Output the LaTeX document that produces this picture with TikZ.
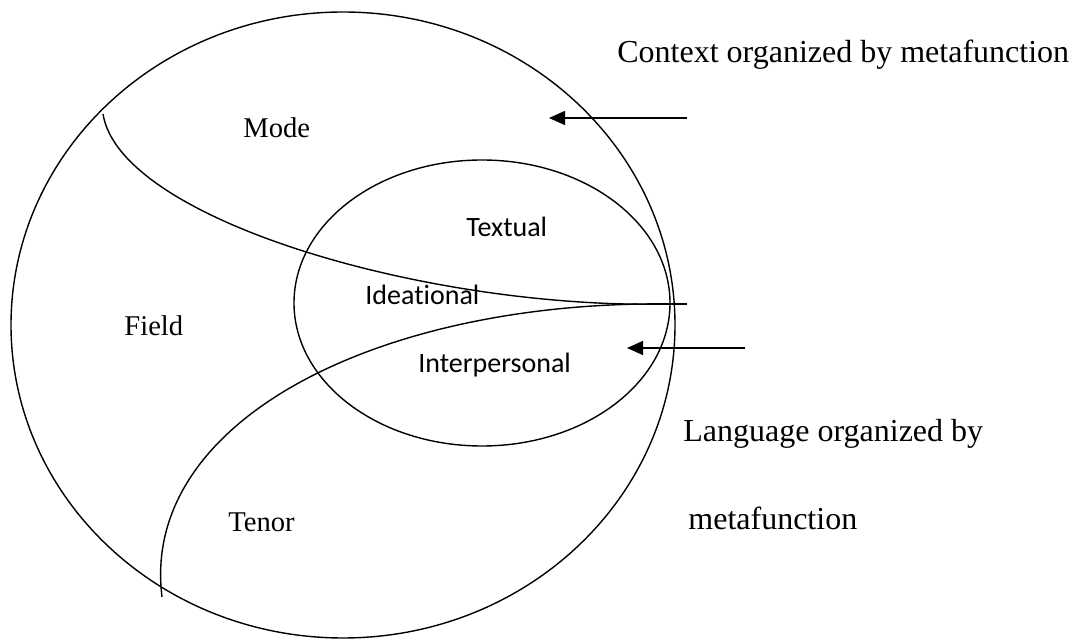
\documentclass[tikz,border=0pt]{standalone}
\usepackage{fontspec}
\setmainfont{Liberation Serif}
\newfontfamily\calibfont[Ligatures=NoCommon]{Carlito}
\usetikzlibrary{shapes.geometric,arrows.meta}
\begin{document}
\begin{tikzpicture}[x=0.5pt,y=-0.5pt,
  curveline/.style={line width=0.7pt},
  ring/.style={draw, ellipse, line width=0.7pt, inner sep=0pt, outer sep=0pt},
  sidelabel/.style={font=\fontsize{16}{19}\selectfont, anchor=base west, inner sep=0pt},
  region/.style={font=\fontsize{14.3}{17}\selectfont, anchor=base west, inner sep=0pt},
  func/.style={font=\calibfont\fontsize{14}{17}\selectfont, anchor=base west, inner sep=0pt},
  pointer/.style={line width=0.7pt, -{Triangle[length=8pt,width=7pt]}}]
\useasboundingbox (0,0) rectangle (1073,640);

% outer context circle and inner language ellipse
\node[ring, minimum width=332pt, minimum height=313pt] (context) at (343,325) {};
\node[ring, minimum width=188pt, minimum height=143pt] (language) at (482,303) {};

% dividing curves
\coordinate (tip) at (672,304);
\coordinate (tipend) at (687,304);
\coordinate (modestart) at (103,114);
\coordinate (tenorstart) at (162,597);
\draw[curveline] (modestart) .. controls (120,220) and (430,310) .. (tip);
\draw[curveline] (tenorstart) .. controls (140,420) and (380,300) .. (tip);
\draw[curveline] (tip) -- (tipend);

% region labels
\node[region] (mode) at (243,138) {Mode};
\node[region] (field) at (124,336) {Field};
\node[region] (tenor) at (228,532) {Tenor};

% metafunction labels
\node[func] (textual) at (466,237) {Textual};
\node[func] (ideational) at (365,305) {Ideational};
\node[func] (interpersonal) at (418,373) {Interpersonal};

% side captions
\node[sidelabel] (ctxcap) at (617,63) {Context organized by metafunction};
\node[sidelabel] (langcap1) at (683,442) {Language organized by};
\node[sidelabel] (langcap2) at (688,530) {metafunction};

% pointers
\coordinate (p1s) at (687,118);
\coordinate (p1e) at (549,118);
\coordinate (p2s) at (745,348);
\coordinate (p2e) at (627,348);
\draw[pointer] (p1s) -- (p1e);
\draw[pointer] (p2s) -- (p2e);
\end{tikzpicture}
\end{document}
